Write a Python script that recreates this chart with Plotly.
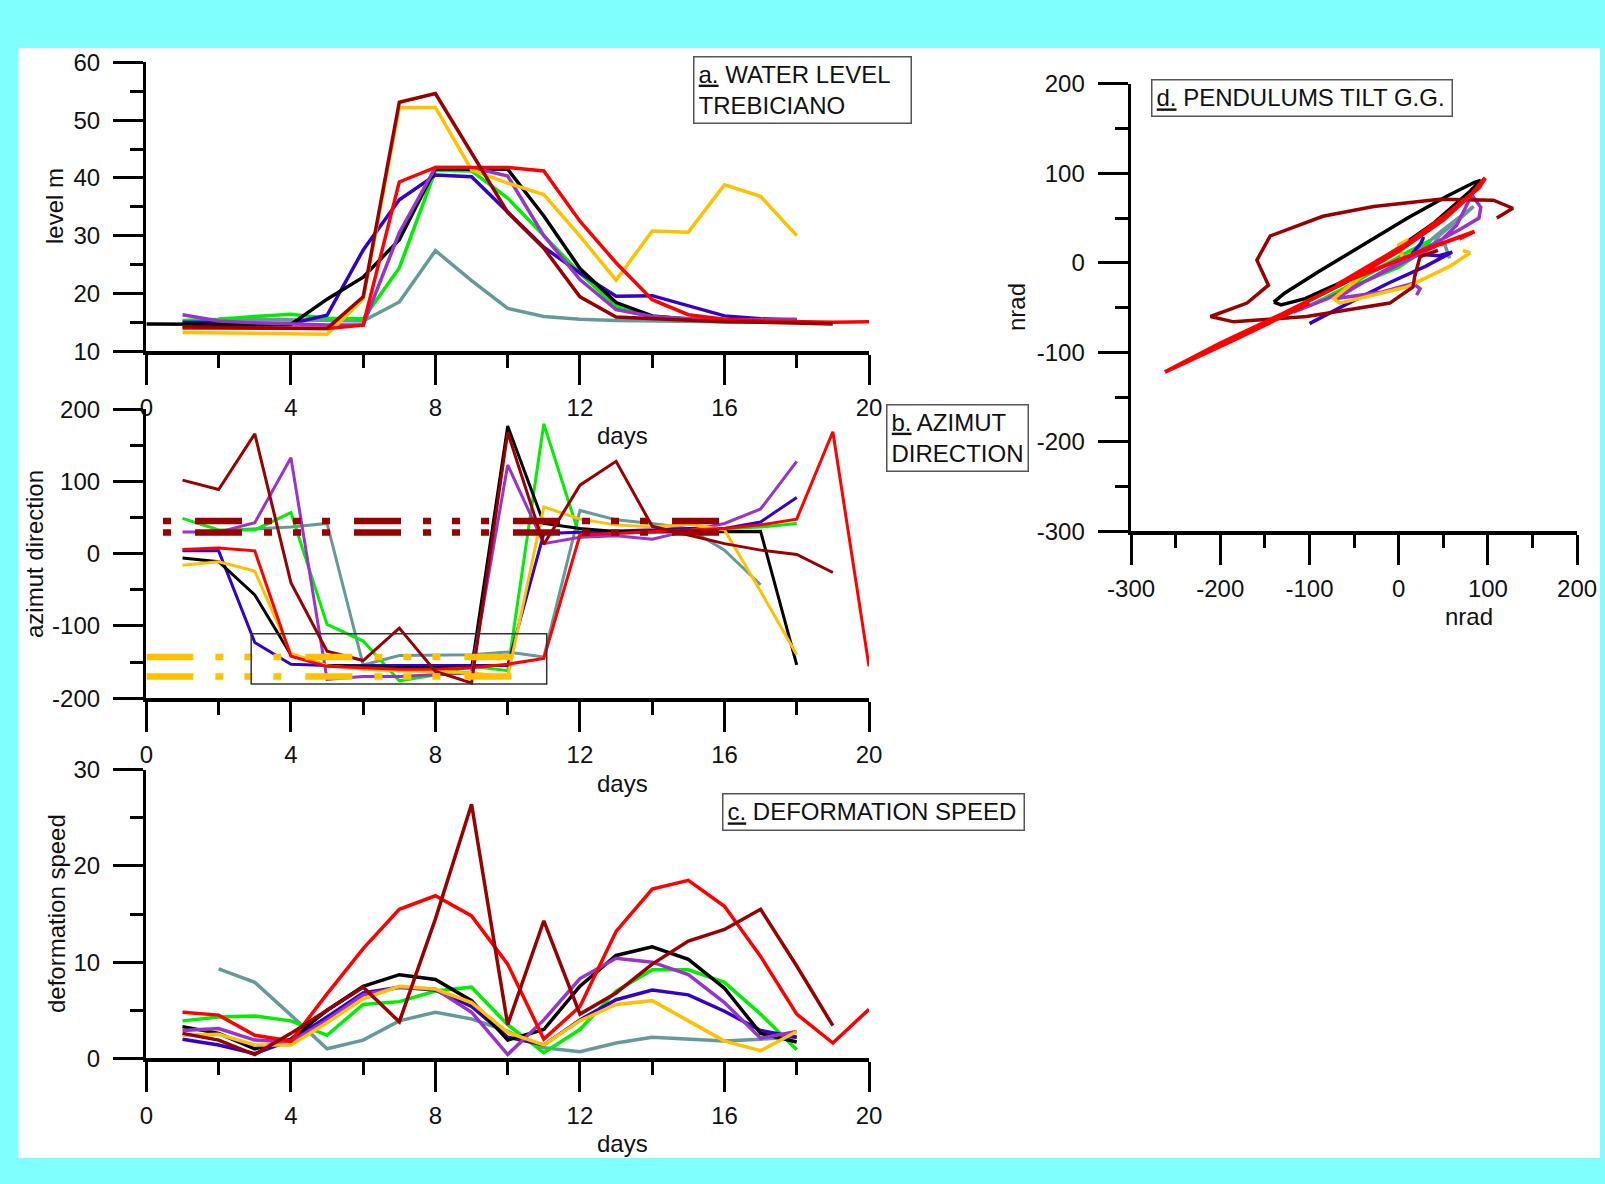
import plotly.graph_objects as go

W, H = 1605, 1184
FONT = "Liberation Sans, Arial, sans-serif"
TXT = "#111111"

COLORS = {
    "gray": "#669999", "green": "#00EE00", "blue": "#3300CC", "black": "#000000",
    "purple": "#9933CC", "red": "#FF0000", "gold": "#FFC000", "darkred": "#990000",
}
ORDER = ["gray", "green", "blue", "black", "purple", "gold", "red", "darkred"]

# ---------------- panel a: water level (m) ----------------
level_start = {"black": 0, "blue": 1, "red": 1, "green": 1, "purple": 1, "gray": 2, "darkred": 1, "gold": 1}
level = {
    "black":   [14.7, 14.7, 14.7, 14.6, 14.6, 19.0, 22.8, 29.3, 41.6, 41.5, 41.5, 33.4, 24.3, 18.4, 16.1, 15.5, 15.3, 15.2, 15.2],
    "blue":    [15.0, 15.0, 14.8, 14.8, 16.2, 27.5, 36.2, 40.5, 40.2, 34.0, 28.0, 23.5, 19.5, 19.6, 17.8, 16.1, 15.6, 15.4],
    "red":     [14.0, 14.0, 13.9, 13.9, 13.9, 14.5, 39.3, 41.8, 41.8, 41.8, 41.2, 32.5, 25.3, 18.9, 16.3, 15.5, 15.2, 15.1, 15.0, 15.1],
    "green":   [15.3, 15.5, 16.0, 16.4, 15.7, 15.6, 24.4, 41.3, 41.2, 36.5, 30.0, 23.5, 17.8, 16.0, 15.6, 15.4, 15.3, 15.2],
    "purple":  [16.3, 15.2, 14.9, 14.7, 14.5, 14.5, 30.5, 41.8, 41.8, 40.3, 30.0, 22.4, 17.2, 16.0, 15.6, 15.4, 15.4, 15.5],
    "gray":    [15.6, 15.5, 15.4, 15.3, 15.2, 18.5, 27.4, 22.2, 17.4, 16.0, 15.5, 15.3, 15.2, 15.1, 15.1, 15.0, 15.0],
    "darkred": [14.2, 14.1, 14.0, 14.0, 13.9, 19.4, 53.1, 54.6, 44.3, 34.0, 27.8, 19.4, 15.9, 15.6, 15.3, 15.1, 15.0, 14.8, 14.7],
    "gold":    [13.2, 13.2, 13.1, 13.0, 12.9, 19.0, 52.2, 52.2, 41.4, 39.1, 37.1, 29.9, 22.3, 30.8, 30.6, 38.8, 36.8, 30.0],
}

# ---------------- panel b: azimut direction ----------------
azim_start = {"black": 1, "blue": 1, "red": 1, "green": 1, "purple": 1, "gray": 2, "darkred": 1, "gold": 1}
azim = {
    "black":   [-6, -11, -57, -140, -155, -157, -158, -158, -158, 177, 42, 35, 31, 30, 30, 30, 31, -154],
    "blue":    [4, 4, -123, -153, -155, -155, -155, -155, -155, -155, 28, 30, 32, 33, 35, 35, 44, 78],
    "red":     [6, 8, 4, -142, -156, -158, -160, -160, -158, -153, -145, 26, 28, 30, 33, 35, 40, 48, 169, -156],
    "green":   [49, 33, 33, 57, -98, -121, -176, -168, -156, -162, 180, 23, 28, 30, 32, 34, 37, 42],
    "purple":  [30, 30, 43, 133, -174, -170, -170, -168, -165, 123, 14, 23, 25, 20, 32, 42, 62, 128],
    "gray":    [32, 35, 37, 42, -154, -141, -140, -140, -136, -143, 60, 47, 42, 35, 5, -43],
    "darkred": [102, 89, 166, -40, -135, -148, -103, -163, -179, 168, 13, 95, 128, 38, 26, 14, 5, -1, -26],
    "gold":    [-16, -11, -24, -138, -155, -160, -162, -163, -165, -171, 65, 48, 40, 37, 41, 33, -52, -140],
}
# reference direction bands
ref_darkred_x = [0.46, 15.85]
ref_darkred_y = [45.5, 29.5]
ref_gold_x = [0.0, 10.1]
ref_gold_y = [-143, -170]
zoom_box = {"x0": 2.9, "x1": 11.08, "y0": -180.5, "y1": -111}

# ---------------- panel c: deformation speed ----------------
speed_start = {"black": 1, "blue": 1, "red": 1, "green": 1, "purple": 1, "gray": 2, "darkred": 1, "gold": 1}
speed = {
    "black":   [3.3, 2.6, 1.0, 2.0, 5.0, 7.5, 8.7, 8.2, 6.0, 1.9, 3.0, 7.5, 10.7, 11.6, 10.3, 7.3, 2.6, 1.7],
    "blue":    [2.0, 1.4, 0.5, 1.9, 4.3, 6.8, 7.4, 7.1, 5.4, 2.2, 1.4, 4.0, 6.1, 7.1, 6.6, 4.9, 2.9, 2.2],
    "red":     [4.8, 4.5, 2.4, 1.8, 6.7, 11.4, 15.5, 16.9, 14.8, 9.8, 2.0, 5.4, 13.2, 17.6, 18.5, 15.8, 10.6, 4.6, 1.6, 5.1],
    "green":   [3.9, 4.3, 4.4, 3.9, 2.4, 5.6, 5.9, 7.0, 7.4, 3.5, 0.6, 3.0, 7.0, 9.2, 9.2, 7.9, 4.6, 0.9],
    "purple":  [2.9, 3.1, 1.9, 1.7, 4.0, 6.6, 7.4, 7.2, 4.8, 0.4, 4.0, 8.3, 10.4, 10.0, 8.7, 5.8, 2.1, 2.8],
    "gray":    [9.3, 7.9, 4.5, 1.0, 1.9, 3.9, 4.8, 4.1, 2.8, 1.1, 0.7, 1.6, 2.2, 2.0, 1.8, 2.0, 2.2],
    "darkred": [2.6, 1.9, 0.4, 2.6, 5.0, 7.4, 3.8, 14.5, 26.4, 3.5, 14.3, 4.6, 6.8, 9.8, 12.2, 13.4, 15.5, 9.6, 3.4],
    "gold":    [2.4, 2.5, 1.4, 1.4, 3.7, 6.2, 7.5, 7.2, 5.8, 2.7, 1.4, 3.9, 5.6, 6.0, 3.9, 1.8, 0.8, 2.8],
}

# ---------------- panel d: pendulum tilt paths (nrad) ----------------
tilt_x = {
    "black":   [-140, -128, -90, -40, 10, 55, 85, 92, 80, 40, -10, -60, -105, -132, -140],
    "red":     [-100, -180, -262, -200, -130, -60, 0, 50, 80, 97, 90, 55, 10, -40, -70, -20, 30, 85, 68],
    "darkred": [44, 24, 18, 16, -10, -103, -185, -211, -170, -146, -159, -144, -85, -28, 46, 106, 128, 110],
    "gray":    [15, 50, 84, 75, 45, 40, 52, 57],
    "purple":  [-118, -80, -40, 0, 40, 65, 82, 92, 90, 70, 40, 0, -40, -70, -20, 16, 24, 20],
    "green":   [-100, -60, -20, 10, 35, 30, 0, -40, -80, -100],
    "blue":    [-100, -60, -10, 30, 60, 45, 15, 25, 28],
    "gold":    [5, 0, 11, -28, -73, -66, 9, 57, 80, 72],
}
tilt_y = {
    "black":   [-44, -34, -10, 20, 50, 75, 90, 92, 80, 45, 10, -20, -40, -47, -44],
    "red":     [-45, -84, -122, -90, -57, -22, 13, 48, 75, 95, 84, 55, 22, -8, -25, -5, 15, 35, 27],
    "darkred": [14, 7, -15, -27, -45, -60, -66, -60, -45, -25, 3, 30, 52, 63, 71, 70, 61, 50],
    "gray":    [8, 37, 63, 55, 30, 22, 20, 5],
    "purple":  [-55, -40, -22, -2, 18, 42, 76, 62, 50, 38, 22, 0, -22, -40, -33, -23, -29, -36],
    "green":   [-48, -28, -5, 12, 25, 15, -5, -22, -38, -48],
    "blue":    [-68, -47, -22, -4, 12, 8, 10, 22, 29],
    "gold":    [3, 20, 26, -4, -40, -45, -27, -4, 11, 14],
}
TILT_ORDER = ["black", "gray", "green", "blue", "purple", "gold", "darkred", "red"]

# tick values / labels (hyphen minus as in the original)
azim_ticks = [-200, -100, 0, 100, 200]
nrad_ticks = [-300, -200, -100, 0, 100, 200]

def hyph(vals):
    return [str(v) for v in vals]

# ---------------- layout helpers (pixel -> paper) ----------------
def px(x):
    return x / W

def py(y):
    return 1 - y / H

fig = go.Figure()

def add_series(data, start, xa, ya, width):
    for name in ORDER:
        vals = data[name]
        days = list(range(start[name], start[name] + len(vals)))
        fig.add_trace(go.Scatter(x=days, y=vals, mode="lines", xaxis=xa, yaxis=ya,
                                 line=dict(color=COLORS[name], width=width),
                                 hoverinfo="skip", showlegend=False))

add_series(level, level_start, "x", "y", 3.5)
add_series(azim, azim_start, "x2", "y2", 3)
add_series(speed, speed_start, "x3", "y3", 3.5)

for yv in ref_darkred_y:
    fig.add_trace(go.Scatter(x=ref_darkred_x, y=[yv, yv], mode="lines", xaxis="x2", yaxis="y2",
                             line=dict(color="#990000", width=6.5,
                                       dash="8px,24px,47px,22px,8px,21px,8px,21px"),
                             hoverinfo="skip", showlegend=False))
for yv in ref_gold_y:
    fig.add_trace(go.Scatter(x=ref_gold_x, y=[yv, yv], mode="lines", xaxis="x2", yaxis="y2",
                             line=dict(color="#FFC000", width=6.5,
                                       dash="47px,22px,8px,21px,8px,21px,8px,24px"),
                             hoverinfo="skip", showlegend=False))

for name in TILT_ORDER:
    fig.add_trace(go.Scatter(x=tilt_x[name], y=tilt_y[name], mode="lines", xaxis="x4", yaxis="y4",
                             line=dict(color=COLORS[name], width=4 if name == "red" else 3.5),
                             hoverinfo="skip", showlegend=False))

def axis(rng, dtick, mdtick, domain, anchor, standoff, ticks=None):
    d = dict(range=rng, autorange=False, domain=domain, anchor=anchor, automargin=False,
             showline=True, linewidth=3.5, linecolor="black",
             ticks="outside", ticklen=30, tickwidth=3, tickcolor="black",
             tick0=0, dtick=dtick,
             minor=dict(ticks="outside", ticklen=13, tickwidth=3, tickcolor="black",
                        tick0=0, dtick=mdtick, showgrid=False),
             showgrid=False, zeroline=False, fixedrange=True,
             tickfont=dict(family=FONT, size=24, color=TXT),
             ticklabelstandoff=standoff)
    if ticks is not None:
        d.update(tickmode="array", tickvals=ticks, ticktext=hyph(ticks))
    return d

XS, YS = 3, 8
xdom = [px(146.4), px(869.0)]
fig.update_layout(
    template="none",
    width=W, height=H, autosize=False,
    margin=dict(l=0, r=0, t=0, b=0, pad=0),
    paper_bgcolor="#80FFFF", plot_bgcolor="rgba(0,0,0,0)",
    showlegend=False,
    font=dict(family=FONT, size=24, color=TXT),
    xaxis=axis([0, 20], 4, 2, xdom, "y", XS),
    yaxis=axis([10, 60], 10, 5, [py(351.1), py(62.4)], "x", YS),
    xaxis2=axis([0, 20], 4, 2, xdom, "y2", XS),
    yaxis2=axis([-200, 200], 100, 50, [py(698.1), py(409.4)], "x2", YS, azim_ticks),
    xaxis3=axis([0, 20], 4, 2, xdom, "y3", XS),
    yaxis3=axis([0, 30], 10, 5, [py(1058.4), py(769.7)], "x3", YS),
    xaxis4=axis([-300, 200], 100, 50, [px(1131.1), px(1577.1)], "y4", XS, nrad_ticks),
    yaxis4=axis([-300, 200], 100, 50, [py(531.2), py(83.9)], "x4", YS, nrad_ticks),
)

# white sheet on cyan frame
fig.add_shape(type="rect", xref="paper", yref="paper", layer="below",
              x0=px(18.4), x1=px(1600), y0=py(1157.7), y1=py(48.1),
              fillcolor="white", line=dict(width=0))
# zoom box in panel b
fig.add_shape(type="rect", xref="x2", yref="y2", layer="above",
              x0=zoom_box["x0"], x1=zoom_box["x1"], y0=zoom_box["y0"], y1=zoom_box["y1"],
              line=dict(color="#333333", width=1.5), fillcolor="rgba(0,0,0,0)")

def label(text, x, y, angle=0):
    fig.add_annotation(text=text, xref="paper", yref="paper", x=px(x), y=py(y),
                       xanchor="center", yanchor="middle", showarrow=False, textangle=angle,
                       font=dict(family=FONT, size=24, color=TXT))

label("level m", 54, 206, -90)
label("days", 622, 436)
label("azimut direction", 34, 554, -90)
label("days", 622, 783)
label("deformation speed", 56, 914, -90)
label("days", 622, 1143)
label("nrad", 1016, 307, -90)
label("nrad", 1469, 616)

def box(text, x0, x1, y0, y1, pad=4):
    fig.add_annotation(text=text, xref="paper", yref="paper", x=px(x0), y=py(y0),
                       xanchor="left", yanchor="top", showarrow=False, align="left",
                       width=x1 - x0 - 2 * pad - 2, height=y1 - y0 - 2 * pad - 2,
                       borderpad=pad, bordercolor="#555555", borderwidth=1.5, bgcolor="white",
                       font=dict(family=FONT, size=24, color=TXT))

box("<u>a.</u> WATER LEVEL<br>TREBICIANO", 693, 911, 56.3, 122.8)
box("<u>b.</u> AZIMUT<br>DIRECTION", 886.4, 1028.7, 404.3, 470.9)
box("<u>c.</u> DEFORMATION SPEED", 721.6, 1023.6, 793.3, 830.1)
box("<u>d.</u> PENDULUMS TILT G.G.", 1150.5, 1451.5, 78.8, 115.7)

fig.write_html("out.html",
               config={"displayModeBar": False, "staticPlot": True},
               post_script="document.body.style.margin='0px';document.body.style.overflow='hidden';")
